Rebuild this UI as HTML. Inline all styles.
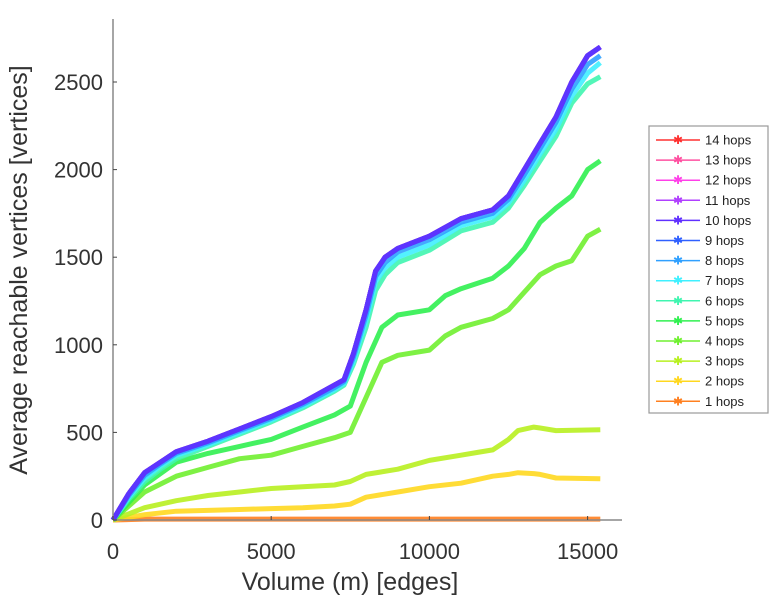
<!DOCTYPE html>
<html><head><meta charset="utf-8"><style>
body{margin:0;background:#fff;}
svg{display:block;font-family:"Liberation Sans",sans-serif;}
</style></head><body>
<svg id="chart" width="773" height="600">
<g id="series"></g>
<g id="axes"></g>
<g id="legend"></g>
</svg>
<script>
const xTicks=[0,5000,10000,15000];
const yTicks=[0,500,1000,1500,2000,2500];
const seriesNames=["14 hops","13 hops","12 hops","11 hops","10 hops","9 hops","8 hops","7 hops","6 hops","5 hops","4 hops","3 hops","2 hops","1 hops"];
const seriesColors=["#ff3030","#ff50a0","#ff40e8","#b040ff","#6030ff","#3060ff","#30a0ff","#40f0ff","#40f5b0","#30f050","#70f030","#b8f020","#ffd820","#ff8020"];
const xTop=[0,500,1000,1500,2000,3000,4000,5000,6000,7000,7300,7600,8000,8300,8600,9000,10000,11000,12000,12500,13000,13500,14000,14500,15000,15400];
const y10=[0,150,270,330,390,450,520,590,670,770,800,950,1200,1420,1500,1550,1620,1720,1770,1850,2000,2150,2300,2500,2650,2700];
const y8=[0,140,255,320,380,440,510,580,660,755,790,930,1170,1390,1470,1530,1600,1700,1750,1830,1970,2120,2270,2460,2600,2650];
const y7=[0,130,240,310,370,430,500,570,650,745,780,910,1140,1360,1440,1500,1570,1680,1730,1810,1940,2090,2230,2420,2550,2610];
const y6=[0,120,220,290,350,420,490,560,640,735,770,890,1100,1310,1400,1470,1540,1650,1700,1780,1910,2050,2190,2380,2490,2530];
const xMid=[0,1000,2000,3000,4000,5000,6000,7000,7500,8000,8500,9000,10000,10500,11000,12000,12500,13000,13500,14000,14500,15000,15400];
const y5=[0,200,330,380,420,460,530,600,650,900,1100,1170,1200,1280,1320,1380,1450,1550,1700,1780,1850,2000,2050];
const y4=[0,160,250,300,350,370,420,470,500,700,900,940,970,1050,1100,1150,1200,1300,1400,1450,1480,1620,1660];
const xLow=[0,1000,2000,3000,4000,5000,6000,7000,7500,8000,9000,10000,11000,11500,12000,12500,12800,13300,13500,14000,15400];
const y3=[0,70,110,140,160,180,190,200,220,260,290,340,370,385,400,460,510,530,525,510,515];
const y2=[0,30,50,55,60,65,70,80,90,130,160,190,210,230,250,260,270,265,260,240,235];
const y1=[0,5,5,5,5,5,5,5,5,5,5,5,5,5,5,5,5,5,5,5,5];
const seriesX=[xTop,xTop,xTop,xTop,xTop,xTop,xTop,xTop,xTop,xMid,xMid,xLow,xLow,xLow];
const seriesY=[y10,y10,y10,y10,y10,y10,y8,y7,y6,y5,y4,y3,y2,y1];

const X0=113,PX=0.03164,Y0=520,PY=0.1752;
const sx=v=>X0+v*PX, sy=v=>Y0-v*PY;
const NS="http://www.w3.org/2000/svg";
function mk(t,a,p){const e=document.createElementNS(NS,t);for(const k in a)e.setAttribute(k,a[k]);p.appendChild(e);return e;}
const gS=document.getElementById('series'),gA=document.getElementById('axes'),gL=document.getElementById('legend');
const drawOrder=[0,1,2,3,13,12,11,10,9,8,7,6,5,4];
drawOrder.forEach(i=>{
  const xs=seriesX[i],ys=seriesY[i];
  const d=xs.map((x,j)=>(j?'L':'M')+sx(x).toFixed(1)+' '+sy(ys[j]).toFixed(1)).join(' ');
  const p=mk('path',{d:d,fill:'none',stroke:seriesColors[i],'stroke-width':5,'stroke-linejoin':'round','stroke-opacity':0.9},gS);
  
  
});
let ax=mk('line',{x1:X0,y1:19,x2:X0,y2:Y0,stroke:'#888','stroke-width':1.5},gA);


let bx=mk('line',{x1:X0,y1:Y0,x2:622,y2:Y0,stroke:'#888','stroke-width':1.5},gA);


xTicks.forEach(v=>{
  mk('line',{x1:sx(v),y1:Y0,x2:sx(v),y2:Y0-4,stroke:'#444'},gA);
  const t=mk('text',{x:sx(v),y:559,'text-anchor':'middle','font-size':22,fill:'#333'},gA);
  t.textContent=v;
  
  
});
yTicks.forEach(v=>{
  mk('line',{x1:X0,y1:sy(v),x2:X0+4,y2:sy(v),stroke:'#444'},gA);
  const t=mk('text',{x:103,y:sy(v)+8,'text-anchor':'end','font-size':22,fill:'#333'},gA);
  t.textContent=v;
  
  
});
let xt=mk('text',{x:350,y:590,'text-anchor':'middle','font-size':25,fill:'#333'},gA);
xt.textContent='Volume (m) [edges]';


let yt=mk('text',{x:0,y:0,'text-anchor':'middle','font-size':25,fill:'#333',transform:'translate(27,270) rotate(-90)'},gA);
yt.textContent='Average reachable vertices [vertices]';


let lb=mk('rect',{x:649,y:126,width:119,height:287,fill:'#fff',stroke:'#999','stroke-width':1.2},gL);


seriesNames.forEach((n,i)=>{
  const y=140+i*20.1;
  const g=mk('g',{},gL);
  
  
  mk('line',{x1:656,y1:y,x2:700,y2:y,stroke:seriesColors[i],'stroke-width':1.5},g);
  const m=mk('text',{x:678,y:y+4,'text-anchor':'middle','font-size':12,fill:seriesColors[i]},g);
  m.textContent='✱';
  const t=mk('text',{x:705,y:y+4.5,'font-size':13,fill:'#222'},g);
  t.textContent=n;
});
</script>
</body></html>
